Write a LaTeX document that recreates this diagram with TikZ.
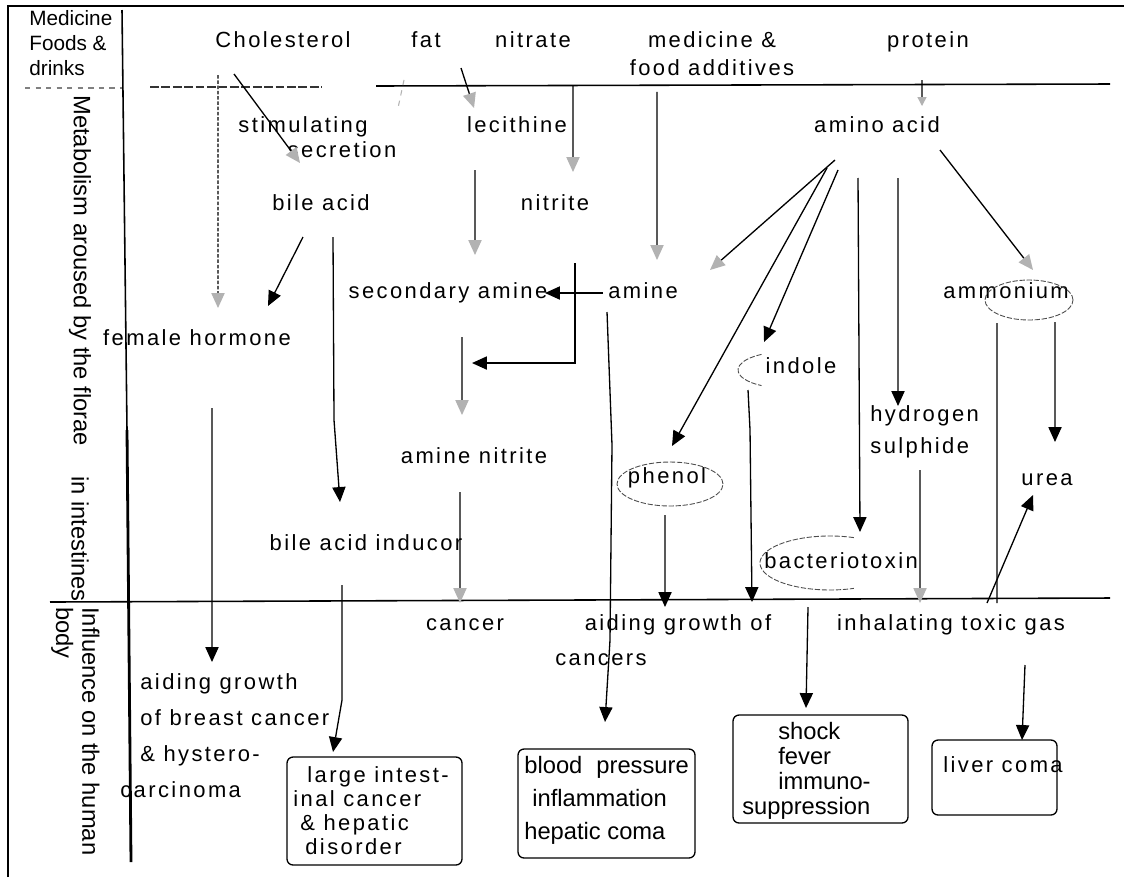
\documentclass[tikz,border=0pt]{standalone}
\usepackage{fontspec}
\setmainfont{Liberation Sans}
\newfontfamily\dfont[LetterSpace=11]{Liberation Sans}
\newfontfamily\lfont{Liberation Sans}
\usetikzlibrary{arrows.meta}
\begin{document}
\begin{tikzpicture}[x=0.02cm,y=-0.02cm,
  mtxt/.style={font=\dfont\fontsize{12.5}{15}\selectfont, inner sep=0pt},
  txt/.style={mtxt, text height=9pt, text depth=2.5pt},
  lab/.style={font=\lfont\fontsize{11.8}{14.2}\selectfont, inner sep=0pt},
  rot/.style={font=\lfont\fontsize{13.5}{15}\selectfont, inner sep=0pt, rotate=-90},
  box/.style={draw, rounded corners=0.12cm, line width=0.75pt, inner sep=0pt},
  con/.style={line width=0.75pt},
  arr/.style={con, -{Triangle[width=7.5pt,length=8.5pt]}},
  garr/.style={con, -{Triangle[width=7.5pt,length=8.5pt,color=gray!60]}},
  ell/.style={draw=black!70, line width=0.5pt, dash pattern=on 3pt off 1pt},
  div/.style={line width=0.9pt}]

\useasboundingbox (0,0) rectangle (1124,877);
\fill[white] (0,0) rectangle (1124,877);

% frame and dividers
\draw[line width=1.1pt] (8,877) -- (8,6) -- (1124,6);
\draw[div, black!50, dashed] (25,88) -- (122,88);
\draw[line width=0.8pt, black!80, dash pattern=on 5pt off 1.5pt] (150,87) -- (322,87);
\draw[div] (376,86) -- (1110,84);
\draw[div] (50,602) -- (1110,598);
\draw[line width=0.9pt] (122,10) -- (127,430);
\draw[line width=1.6pt] (127,430) -- (131,862);

% side labels
\node[lab, align=left, anchor=north west] (hdr) at (29,10) {Medicine\\Foods \&\\drinks};
\node[rot, anchor=west] (metab) at (80,95) {Metabolism aroused by the florae};
\node[rot, anchor=west] (intest) at (80,476) {in intestines};
\node[rot, anchor=north west, align=left] (infl) at (100,607) {Influence on the human\\body};

% text nodes
\node[txt] (chol) at (283,42) {Cholesterol};
\node[txt] (fat) at (426,42) {fat};
\node[txt] (nitrate) at (533,42) {nitrate};
\node[mtxt, align=center, anchor=north, font=\dfont\fontsize{12.5}{16}\selectfont] (med) at (712,31) {medicine \&\\food additives};
\node[txt] (protein) at (928,42) {protein};
\node[txt] (stim) at (303,127) {stimulating};
\node[txt] (secr) at (342,152) {secretion};
\node[txt] (lec) at (517,127) {lecithine};
\node[txt] (amino) at (877,127) {amino acid};
\node[txt] (bile) at (321,205) {bile acid};
\node[txt] (nitrite) at (555,205) {nitrite};
\node[txt] (secam) at (448,293) {secondary amine};
\node[txt] (amine) at (643,293) {amine};
\node[txt] (ammon) at (1006,293) {ammonium};
\node[txt] (female) at (197,340) {female hormone};
\node[txt] (indole) at (801,368) {indole};
\node[mtxt, align=left, anchor=north west, font=\dfont\fontsize{12.5}{18.2}\selectfont] (hs) at (870,405) {hydrogen\\sulphide};
\node[txt] (aminenit) at (474,458) {amine nitrite};
\node[txt] (phenol) at (667,478) {phenol};
\node[txt] (urea) at (1047,480) {urea};
\node[txt] (bact) at (841,563) {bacteriotoxin};
\node[txt] (bai) at (366,545) {bile acid inducor};
\node[txt] (cancer) at (465,625) {cancer};
\node[txt] (ag) at (678,625) {aiding growth of};
\node[txt] (agc) at (601,660) {cancers};
\node[txt] (inhal) at (951,625) {inhalating toxic gas};
\node[mtxt, align=left, anchor=north west, font=\dfont\fontsize{12.5}{20.5}\selectfont] (breast) at (140,673) {aiding growth\\of breast cancer\\\& hystero-\\\hspace*{-0.4cm}carcinoma};

% ellipses
\draw[ell] ([xshift=0.06cm,yshift=-0.12cm]phenol.center) ellipse [x radius=1.06cm, y radius=0.44cm];
\draw[ell] ([xshift=0.46cm,yshift=-0.14cm]ammon.center) ellipse [x radius=0.88cm, y radius=0.4cm];
\draw[ell] ([xshift=-0.79cm,yshift=0.272cm]indole.center) arc[start angle=120, end angle=240, x radius=0.94cm, y radius=0.36cm];
\draw[ell] ([xshift=0.258cm,yshift=0.508cm]bact.center) arc[start angle=70, end angle=290, x radius=1.4cm, y radius=0.54cm];

% boxes
\node[box, minimum width=3.5cm, minimum height=2.16cm] (b1) at (374.5,811) {};
\node[box, minimum width=3.54cm, minimum height=2.18cm] (b2) at (606.5,803.5) {};
\node[box, minimum width=3.5cm, minimum height=2.16cm] (b3) at (820.5,769) {};
\node[box, minimum width=2.5cm, minimum height=1.5cm] (b4) at (994.5,777.5) {};
\node[mtxt, align=left, anchor=north west, font=\dfont\fontsize{12.5}{13.7}\selectfont] (b1t) at (293,766) {\hspace*{0.28cm}large intest-\\inal cancer\\\hspace*{0.14cm}\& hepatic\\\hspace*{0.24cm}disorder};
\node[inner sep=0pt, align=left, anchor=north west, font=\lfont\fontsize{13.5}{18.8}\selectfont] (b2t) at (524,756) {blood\hspace{0.15cm} pressure\\\hspace*{0.16cm}inflammation\\hepatic coma};
\node[inner sep=0pt, align=left, anchor=north west, font=\lfont\fontsize{13.5}{14.2}\selectfont] (b3t) at (742,722) {\hspace*{0.72cm}shock\\\hspace*{0.72cm}fever\\\hspace*{0.72cm}immuno-\\suppression};
\node[txt] (b4t) at (1003,767) {liver coma};

% connectors
\draw[garr, dash pattern=on 2pt off 1pt] ([xshift=-1.3cm,yshift=-0.66cm]chol.center) -- ([xshift=0.42cm,yshift=0.64cm]female.center);
\draw[garr] ([xshift=-0.98cm,yshift=-0.64cm]chol.center) -- ([xshift=-0.84cm,yshift=-0.22cm]secr.center);
\draw[garr] ([xshift=0.7cm,yshift=-0.52cm]fat.center) -- ([xshift=-0.86cm,yshift=0.38cm]lec.center);
\draw[gray!60, line width=0.6pt, dashed] ([xshift=-0.44cm,yshift=-0.76cm]fat.center) -- ([xshift=-0.56cm,yshift=-1.32cm]fat.center);
\draw[garr] ([xshift=0.8cm,yshift=-0.86cm]nitrate.center) -- ([xshift=0.36cm,yshift=0.66cm]nitrite.center);
\draw[garr] ([xshift=-1.1cm,yshift=-1.22cm]med.north) -- ([xshift=0.28cm,yshift=0.66cm]amine.center);
\draw[con, -{Triangle[width=5pt,length=5pt,color=gray!60]}] ([xshift=-0.12cm,yshift=-0.76cm]protein.center) -- ([xshift=0.9cm,yshift=0.42cm]amino.center);
\draw[garr] ([xshift=-0.84cm,yshift=-0.86cm]lec.center) -- ([xshift=0.54cm,yshift=0.76cm]secam.center);
\draw[arr] ([xshift=-0.36cm,yshift=-0.64cm]bile.center) -- ([xshift=1.42cm,yshift=0.68cm]female.center);
\draw[arr] ([xshift=0.24cm,yshift=-0.64cm]bile.center) -- ([xshift=-0.64cm,yshift=2.5cm]bai.center) -- ([xshift=-0.52cm,yshift=0.86cm]bai.center);
\draw[arr] ([xshift=-0.8cm]amine.center) -- ([xshift=1.94cm]secam.center);
\draw[arr] ([xshift=0.4cm,yshift=-1.16cm]nitrite.center) |- ([xshift=-0.04cm,yshift=1.9cm]aminenit.center);
\draw[garr] ([xshift=0.28cm,yshift=-0.88cm]secam.center) -- ([xshift=-0.24cm,yshift=0.86cm]aminenit.center);
\draw[garr] ([xshift=-0.28cm,yshift=-0.68cm]aminenit.center) -- ([xshift=-0.1cm,yshift=0.44cm]cancer.center);
\draw[arr] ([xshift=-0.72cm,yshift=-0.38cm]amine.center) -- ([xshift=0.11cm,yshift=7.17cm]b2.center) -- ([xshift=0.07cm,yshift=3.27cm]b2.center) -- ([xshift=-0.03cm,yshift=1.63cm]b2.center);
\draw[garr] ([xshift=-0.84cm,yshift=-0.66cm]amino.center) -- ([xshift=1.34cm,yshift=0.46cm]amine.center);
\draw[arr] ([xshift=-1.0cm,yshift=-0.82cm]amino.center) -- ([xshift=0.1cm,yshift=0.64cm]phenol.center);
\draw[arr] ([xshift=-0.78cm,yshift=-0.86cm]amino.center) -- ([xshift=-0.74cm,yshift=0.52cm]indole.center);
\draw[arr] ([xshift=-0.38cm,yshift=-1.02cm]amino.center) -- ([xshift=0.38cm,yshift=0.62cm]bact.center);
\draw[arr] ([xshift=0.42cm,yshift=-1.02cm]amino.center) -- ([xshift=0.56cm,yshift=-0.02cm]hs.north west);
\draw[garr] ([xshift=1.26cm,yshift=-0.46cm]amino.center) -- ([xshift=0.54cm,yshift=0.46cm]ammon.center);
\draw[arr] ([xshift=0.98cm,yshift=-0.58cm]ammon.center) -- ([xshift=0.16cm,yshift=0.76cm]urea.center);
\draw[con] ([xshift=-0.18cm,yshift=-0.6cm]ammon.center) -- ([xshift=0.92cm,yshift=0.44cm]inhal.center);
\draw[arr] ([xshift=0.72cm,yshift=0.44cm]inhal.center) -- ([xshift=-0.28cm,yshift=-0.3cm]urea.center);
\draw[arr] ([xshift=-1.06cm,yshift=-0.44cm]indole.center) -- ([xshift=-1.02cm,yshift=-1.24cm]indole.center) -- ([xshift=1.48cm,yshift=0.46cm]ag.center);
\draw[arr] ([xshift=-0.04cm,yshift=-0.74cm]phenol.center) -- ([xshift=-0.26cm,yshift=0.36cm]ag.center);
\draw[garr] ([xshift=1.0cm,yshift=-1.3cm]hs.north west) -- ([xshift=-0.62cm,yshift=0.44cm]inhal.center);
\draw[arr] ([xshift=-0.66cm,yshift=-0.88cm]bact.center) -- ([xshift=-0.29cm,yshift=1.22cm]b3.center);
\draw[arr] ([xshift=0.3cm,yshift=-1.36cm]female.center) -- ([xshift=1.44cm,yshift=0.22cm]breast.north west);
\draw[arr] ([xshift=-0.48cm,yshift=-0.8cm]bai.center) -- ([xshift=-0.65cm,yshift=2.22cm]b1.center) -- ([xshift=-0.83cm,yshift=1.18cm]b1.center);
\draw[arr] ([xshift=1.48cm,yshift=-0.8cm]inhal.center) -- ([xshift=0.55cm,yshift=0.75cm]b4.center);
\end{tikzpicture}
\end{document}
